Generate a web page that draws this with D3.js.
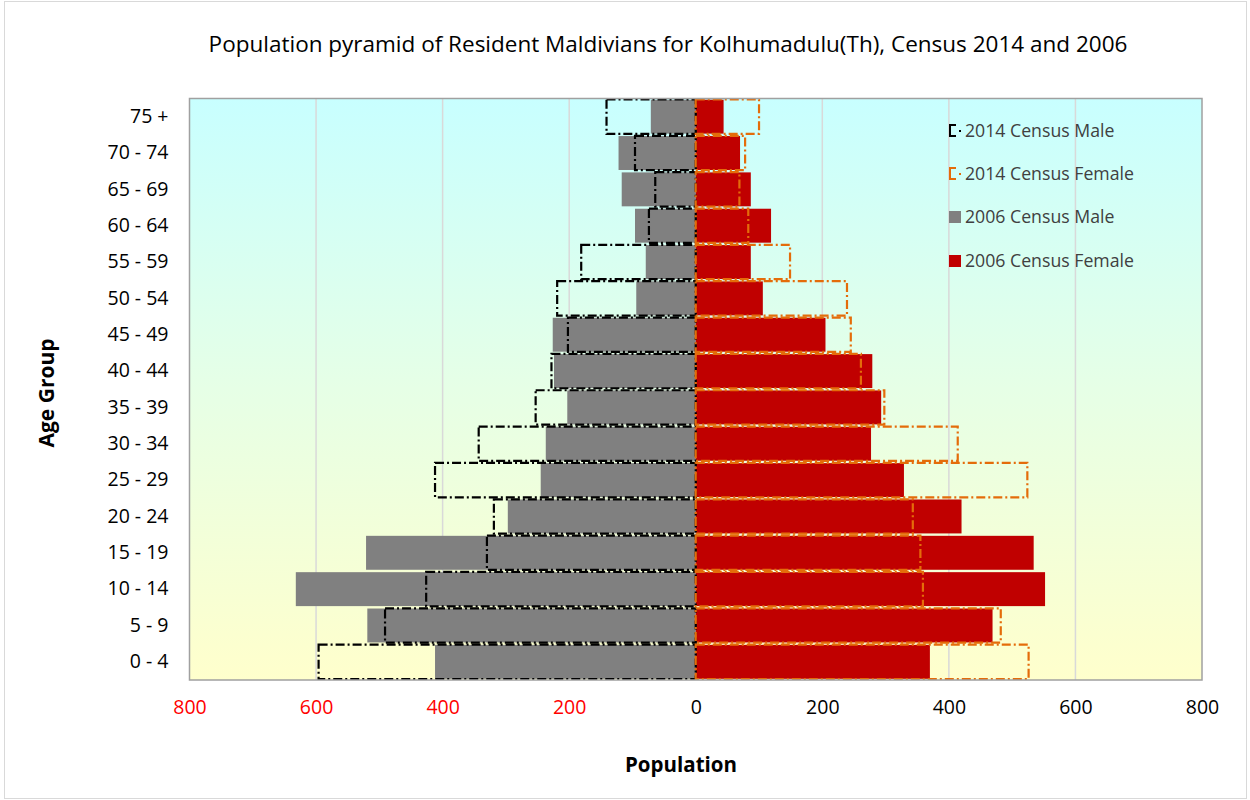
<!DOCTYPE html>
<html>
<head>
<meta charset="utf-8">
<script src="https://cdn.jsdelivr.net/npm/d3@7"></script>
<style>
  html, body { margin: 0; padding: 0; background: #fff; }
  svg { display: block; font-family: "Open Sans", sans-serif; }
</style>
</head>
<body>
<svg id="chart" width="1250" height="800"></svg>
<script>
const ageGroups = ["0 - 4","5 - 9","10 - 14","15 - 19","20 - 24","25 - 29","30 - 34","35 - 39","40 - 44","45 - 49","50 - 54","55 - 59","60 - 64","65 - 69","70 - 74","75 +"];
const male2006   = [412,519,632,521,297,245,237,203,224,226,94,79,96,117,122,71];
const female2006 = [370,469,552,534,420,329,277,293,279,205,106,87,119,87,70,44];
const male2014   = [596,491,426,330,319,412,343,253,228,202,219,181,74,64,96,141];
const female2014 = [526,482,359,355,343,524,414,298,261,245,239,149,83,69,78,100];
const xTicks = [-800,-600,-400,-200,0,200,400,600,800];
const seriesNames = ["2014 Census Male","2014 Census Female","2006 Census Male","2006 Census Female"];
const titleText = "Population pyramid of Resident Maldivians for Kolhumadulu(Th), Census 2014 and 2006";

const svg = d3.select("#chart");
const W = 1250, H = 800;
const plot = {left: 189.5, right: 1202, top: 98.5, bottom: 680};

// chart border
svg.append("rect").attr("x", 4.5).attr("y", 1.5).attr("width", W - 8).attr("height", H - 3)
  .attr("fill", "#fff").attr("stroke", "#d9d9d9").attr("stroke-width", 1);

const defs = svg.append("defs");
const grad = defs.append("linearGradient").attr("id", "bg").attr("x1", 0).attr("y1", 0).attr("x2", 0).attr("y2", 1);
grad.append("stop").attr("offset", "0%").attr("stop-color", "#c8ffff");
grad.append("stop").attr("offset", "50%").attr("stop-color", "#e6ffe6");
grad.append("stop").attr("offset", "100%").attr("stop-color", "#ffffcc");

const x = d3.scaleLinear().domain([-800, 800]).range([plot.left, plot.right]);
const y = d3.scaleBand().domain(ageGroups.slice().reverse()).range([plot.top, plot.bottom]).paddingInner(0).paddingOuter(0);

svg.append("rect").attr("x", plot.left).attr("y", plot.top)
  .attr("width", plot.right - plot.left).attr("height", plot.bottom - plot.top)
  .attr("fill", "url(#bg)");

// gridlines
svg.append("g").selectAll("line").data(xTicks.filter(t => t !== 0 && Math.abs(t) !== 800)).join("line")
  .attr("x1", d => x(d)).attr("x2", d => x(d)).attr("y1", plot.top).attr("y2", plot.bottom)
  .attr("stroke", "#d9d9d9").attr("stroke-width", 1.5);

const gap = 1.2;
// 2006 bars
const g06 = svg.append("g");
g06.selectAll("rect.m").data(ageGroups).join("rect").attr("class", "m")
  .attr("x", (d, i) => x(-male2006[i])).attr("width", (d, i) => x(0) - x(-male2006[i]))
  .attr("y", d => y(d) + gap).attr("height", y.bandwidth() - 2 * gap)
  .attr("fill", "#808080");
g06.selectAll("rect.f").data(ageGroups).join("rect").attr("class", "f")
  .attr("x", x(0)).attr("width", (d, i) => x(female2006[i]) - x(0))
  .attr("y", d => y(d) + gap).attr("height", y.bandwidth() - 2 * gap)
  .attr("fill", "#c00000");

// 2014 outlines
const dash = "9,3,2,3";
const g14 = svg.append("g").attr("fill", "none").attr("stroke-width", 2.2).attr("stroke-dasharray", dash);
g14.selectAll("rect.m").data(ageGroups).join("rect").attr("class", "m")
  .attr("x", (d, i) => x(-male2014[i])).attr("width", (d, i) => x(0) - x(-male2014[i]))
  .attr("y", d => y(d) + 1).attr("height", y.bandwidth() - 2)
  .attr("stroke", "#000");
g14.selectAll("rect.f").data(ageGroups).join("rect").attr("class", "f")
  .attr("x", x(0)).attr("width", (d, i) => x(female2014[i]) - x(0))
  .attr("y", d => y(d) + 1).attr("height", y.bandwidth() - 2)
  .attr("stroke", "#e46c0a");

// plot border
svg.append("rect").attr("x", plot.left).attr("y", plot.top)
  .attr("width", plot.right - plot.left).attr("height", plot.bottom - plot.top)
  .attr("fill", "none").attr("stroke", "#a0a0a0").attr("stroke-width", 1.5);

// x axis
const xAxis = d3.axisBottom(x).tickValues(xTicks).tickFormat(d => Math.abs(d)).tickSize(0).tickPadding(20);
const gx = svg.append("g").attr("transform", `translate(0,${plot.bottom})`).call(xAxis);
gx.select(".domain").remove();
gx.selectAll("text").attr("font-size", 19.5).attr("font-family", "Open Sans")
  .attr("fill", d => d < 0 ? "#ff0000" : "#000");

// y axis
const yAxis = d3.axisLeft(y).tickSize(0).tickPadding(21);
const gy = svg.append("g").attr("transform", `translate(${plot.left},0)`).call(yAxis);
gy.select(".domain").remove();
gy.selectAll("text").attr("font-size", 19.5).attr("font-family", "Open Sans").attr("fill", "#000");

// titles
svg.append("text").attr("x", 668).attr("y", 52).attr("text-anchor", "middle")
  .attr("font-size", 22.5).attr("fill", "#000").text(titleText);
svg.append("text").attr("x", 681).attr("y", 772).attr("text-anchor", "middle")
  .attr("font-size", 20.5).attr("font-weight", "bold").attr("fill", "#000").text("Population");
svg.append("text").attr("transform", "translate(54,393) rotate(-90)").attr("text-anchor", "middle")
  .attr("font-size", 21).attr("font-weight", "bold").attr("fill", "#000").text("Age Group");

// legend
const legY = [131, 174, 217, 261];
const leg = svg.append("g");
seriesNames.forEach((name, i) => {
  const gy0 = legY[i];
  if (i < 2) {
    const col = i === 0 ? "#000" : "#e46c0a";
    leg.append("path").attr("d", `M956,${gy0 - 6} H950 V${gy0 + 5} H956`).attr("fill", "none")
      .attr("stroke", col).attr("stroke-width", 2);
    leg.append("rect").attr("x", 959).attr("y", gy0 - 1).attr("width", 2).attr("height", 2).attr("fill", col);
  } else {
    leg.append("rect").attr("x", 949).attr("y", gy0 - 6).attr("width", 12).attr("height", 12)
      .attr("fill", i === 2 ? "#808080" : "#c00000");
  }
  leg.append("text").attr("x", 965).attr("y", gy0).attr("dy", "0.35em")
    .attr("font-size", 17.7).attr("fill", "#404040").text(name);
});
</script>
</body>
</html>
